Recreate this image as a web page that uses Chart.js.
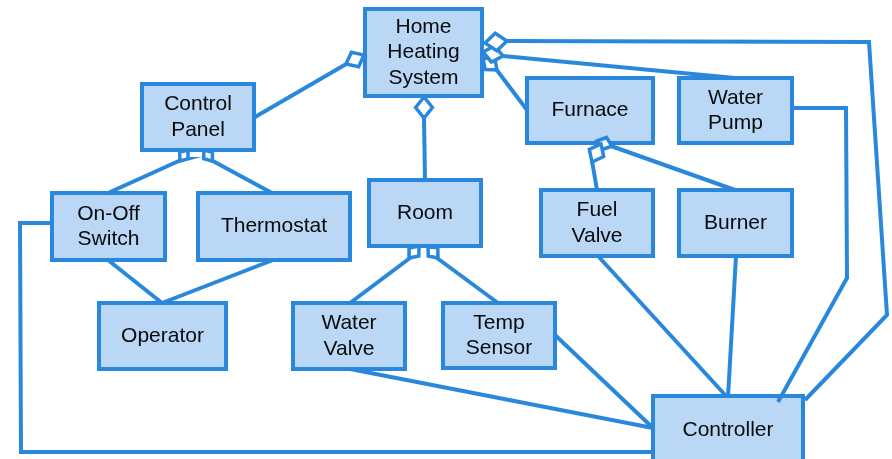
<!DOCTYPE html>
<html>
<head>
<meta charset="utf-8">
<script src="https://cdn.jsdelivr.net/npm/chart.js@4/dist/chart.umd.min.js"></script>
<style>
  html, body { margin: 0; padding: 0; background: #fff; }
  #wrap { width: 892px; height: 459px; }
</style>
</head>
<body>
<div id="wrap"><canvas id="diagram"></canvas></div>
<script>
// boxes of the diagram
let NODE_LABELS = ['Home\nHeating\nSystem', 'Control\nPanel', 'Furnace', 'Water\nPump', 'On-Off\nSwitch', 'Thermostat',
	'Room', 'Fuel\nValve', 'Burner', 'Operator', 'Water\nValve', 'Temp\nSensor', 'Controller'];
let NODE_LEFT = [365, 142, 527, 679, 52, 198, 369, 541, 679, 99, 293, 443, 653];
let NODE_TOP = [9, 84, 78, 78, 193, 193, 180, 190, 190, 303, 303, 303, 396];
let NODE_RIGHT = [482, 254, 653, 792, 165, 350, 481, 653, 792, 226, 405, 555, 803];
let NODE_BOTTOM = [96, 150, 143, 143, 260, 260, 246, 256, 256, 369, 369, 368, 464];

// connectors, each one a list of [x, y] points
let LINKS = [
	[[255, 117], [348, 63]],
	[[424, 118], [425, 180]],
	[[507, 41], [869, 42], [887, 315], [805, 400]],
	[[503, 56], [735, 78]],
	[[496, 69], [527, 110]],
	[[792, 108], [846, 108], [847, 278], [778, 402]],
	[[181, 160], [108, 193]],
	[[211, 160], [272, 193]],
	[[108, 260], [162, 303]],
	[[273, 260], [162, 303]],
	[[52, 223], [20, 223], [21, 452], [653, 452]],
	[[410, 258], [350, 303]],
	[[437, 258], [498, 303]],
	[[350, 369], [653, 428]],
	[[555, 335], [653, 428]],
	[[592, 161], [597, 190]],
	[[611, 146], [735, 190]],
	[[598, 256], [727, 397]],
	[[736, 256], [728, 397]],
];

// aggregation diamonds: tip on the whole, end where the connector starts
let DIAMOND_TIP = [[364, 55], [424, 97], [485, 43], [483, 52], [483, 58], [188, 150], [204, 150],
	[419, 246], [428, 246], [601, 144], [597, 141]];
let DIAMOND_END = [[346, 64], [424, 118], [507, 41], [503, 56], [497, 70], [180, 161], [212, 161],
	[409, 258], [438, 258], [592, 162], [612, 146]];

let LINE_COLOR = '#2a88dc';
let BOX_FILL = '#bad7f6';

function toPoints(list) {
	return list.map((p) => ({ x: p[0], y: p[1] }));
}

// outline starts mid-edge so every corner gets a proper join
function boxPoints(n) {
	let mx = (NODE_LEFT[n] + NODE_RIGHT[n]) / 2;
	return [
		{ x: mx, y: NODE_TOP[n] },
		{ x: NODE_RIGHT[n], y: NODE_TOP[n] },
		{ x: NODE_RIGHT[n], y: NODE_BOTTOM[n] },
		{ x: NODE_LEFT[n], y: NODE_BOTTOM[n] },
		{ x: NODE_LEFT[n], y: NODE_TOP[n] },
		{ x: mx, y: NODE_TOP[n] },
	];
}

function diamondPoints(tip, end) {
	let dx = end[0] - tip[0];
	let dy = end[1] - tip[1];
	let len = Math.sqrt(dx * dx + dy * dy);
	let hw = len * 0.4;
	let nx = -dy / len;
	let ny = dx / len;
	let mx = (tip[0] + end[0]) / 2;
	let my = (tip[1] + end[1]) / 2;
	let a = { x: mx + nx * hw, y: my + ny * hw };
	let b = { x: mx - nx * hw, y: my - ny * hw };
	let s = { x: (tip[0] + a.x) / 2, y: (tip[1] + a.y) / 2 };
	return [s, a, { x: end[0], y: end[1] }, b, { x: tip[0], y: tip[1] }, s];
}

let datasets = [];

for (let n = 0; n < NODE_LABELS.length; n++) {
	datasets.push({
		data: boxPoints(n),
		showLine: true,
		fill: 'shape',
		backgroundColor: BOX_FILL,
		borderColor: LINE_COLOR,
		borderWidth: 4,
		borderJoinStyle: 'miter',
		pointRadius: 0,
		order: 3,
	});
}

for (let l = 0; l < LINKS.length; l++) {
	datasets.push({
		data: toPoints(LINKS[l]),
		showLine: true,
		fill: false,
		borderColor: LINE_COLOR,
		borderWidth: 4,
		borderJoinStyle: 'miter',
		pointRadius: 0,
		order: 2,
	});
}

for (let d = 0; d < DIAMOND_TIP.length; d++) {
	datasets.push({
		data: diamondPoints(DIAMOND_TIP[d], DIAMOND_END[d]),
		showLine: true,
		fill: 'shape',
		backgroundColor: '#ffffff',
		borderColor: LINE_COLOR,
		borderWidth: 3.5,
		borderJoinStyle: 'miter',
		pointRadius: 0,
		order: 1,
	});
}

let nodeText = {
	id: 'nodeText',
	afterDatasetsDraw(chart) {
		let ctx = chart.ctx;
		let xs = chart.scales.x;
		let ys = chart.scales.y;
		ctx.save();
		ctx.font = '21px "Liberation Sans", Arial, sans-serif';
		ctx.fillStyle = '#0a0a0a';
		ctx.textAlign = 'center';
		ctx.textBaseline = 'middle';
		for (let n = 0; n < NODE_LABELS.length; n++) {
			let lines = NODE_LABELS[n].split('\n');
			let cx = xs.getPixelForValue((NODE_LEFT[n] + NODE_RIGHT[n]) / 2);
			let cy = ys.getPixelForValue((NODE_TOP[n] + NODE_BOTTOM[n]) / 2);
			let lh = 25.5;
			for (let i = 0; i < lines.length; i++) {
				ctx.fillText(lines[i], cx, cy + (i - (lines.length - 1) / 2) * lh);
			}
		}
		ctx.restore();
	},
};

var ctx = document.getElementById('diagram').getContext('2d');
var diagram = new Chart(ctx, {
	type: 'scatter',
	data: { datasets: datasets },
	options: {
		responsive: true,
		maintainAspectRatio: false,
		animation: false,
		events: [],
		layout: { padding: 0 },
		plugins: { legend: { display: false }, tooltip: { enabled: false } },
		scales: {
			x: { type: 'linear', min: 0, max: 892, display: false },
			y: { type: 'linear', min: 0, max: 459, reverse: true, display: false },
		},
	},
	plugins: [nodeText],
});
</script>
</body>
</html>
